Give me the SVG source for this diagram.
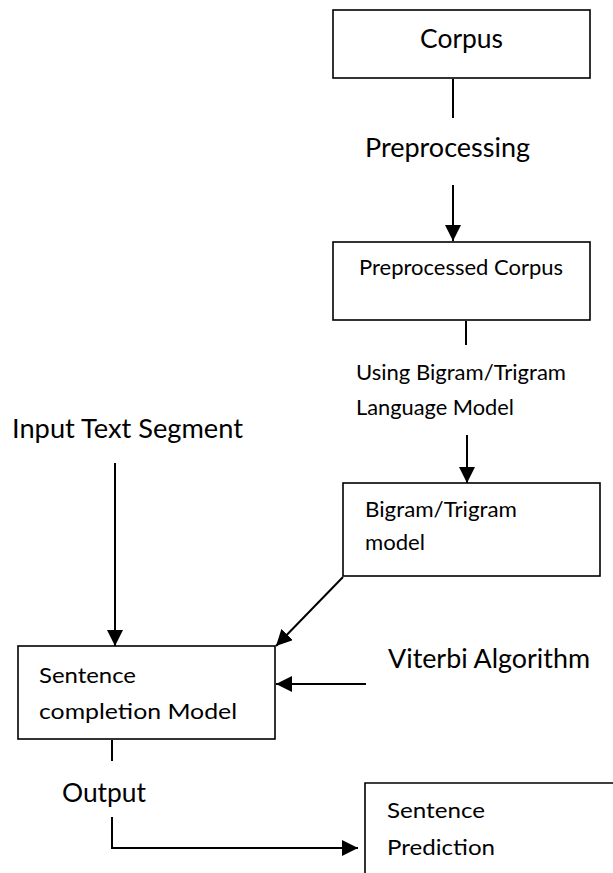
<svg xmlns="http://www.w3.org/2000/svg" width="613" height="873" viewBox="0 0 613 873">
  <style>
    .box { fill: #ffffff; stroke: #000000; stroke-width: 1.6; }
    .wire { fill: none; stroke: #000000; stroke-width: 2; }
    .big { font-family: Lato, "Open Sans", sans-serif; font-size: 26.5px; fill: #000000; }
    .small { font-family: Lato, "Open Sans", sans-serif; font-size: 21.5px; fill: #000000; }
  </style>
  <defs>
    <marker id="arrow" markerUnits="userSpaceOnUse" markerWidth="17" markerHeight="17" refX="16" refY="8" orient="auto">
      <path d="M0,0 L16,8 L0,16 z" fill="#000000"/>
    </marker>
  </defs>
  <rect width="613" height="873" fill="#ffffff"/>

  <!-- connectors -->
  <g id="connectors">
    <line class="wire" x1="453" y1="79" x2="453" y2="118"/>
    <line class="wire" x1="453" y1="185" x2="453" y2="241" marker-end="url(#arrow)"/>
    <line class="wire" x1="466" y1="321" x2="466" y2="345"/>
    <line class="wire" x1="467" y1="435" x2="467" y2="483" marker-end="url(#arrow)"/>
    <line class="wire" x1="115" y1="463" x2="115" y2="646" marker-end="url(#arrow)"/>
    <line class="wire" x1="343" y1="577" x2="276" y2="646" marker-end="url(#arrow)"/>
    <line class="wire" x1="366" y1="684" x2="276" y2="684" marker-end="url(#arrow)"/>
    <line class="wire" x1="112" y1="740" x2="112" y2="761"/>
    <polyline class="wire" points="112,817 112,848 358,848" marker-end="url(#arrow)"/>
  </g>

  <!-- free labels -->
  <g id="label-preprocessing">
    <text class="big" x="365" y="157" textLength="165" lengthAdjust="spacingAndGlyphs">Preprocessing</text>
  </g>
  <g id="label-language-model">
    <text class="small" x="356" y="380" textLength="210" lengthAdjust="spacingAndGlyphs">Using Bigram/Trigram</text>
    <text class="small" x="356" y="415" textLength="158" lengthAdjust="spacingAndGlyphs">Language Model</text>
  </g>
  <g id="label-input">
    <text class="big" x="12" y="438" textLength="231" lengthAdjust="spacingAndGlyphs">Input Text Segment</text>
  </g>
  <g id="label-viterbi">
    <text class="big" x="388" y="668" textLength="202" lengthAdjust="spacingAndGlyphs">Viterbi Algorithm</text>
  </g>
  <g id="label-output">
    <text class="big" x="62" y="802" textLength="84" lengthAdjust="spacingAndGlyphs">Output</text>
  </g>

  <!-- nodes -->
  <g id="corpus">
    <rect class="box" x="333" y="10" width="257" height="68"/>
    <text class="big" x="420" y="48" textLength="83" lengthAdjust="spacingAndGlyphs">Corpus</text>
  </g>
  <g id="preprocessed-corpus">
    <rect class="box" x="333" y="242" width="257" height="78"/>
    <text class="small" x="359" y="275" textLength="204" lengthAdjust="spacingAndGlyphs">Preprocessed Corpus</text>
  </g>
  <g id="ngram-model">
    <rect class="box" x="343" y="483" width="257" height="93"/>
    <text class="small" x="365" y="517" textLength="152" lengthAdjust="spacingAndGlyphs">Bigram/Trigram</text>
    <text class="small" x="365" y="550" textLength="60" lengthAdjust="spacingAndGlyphs">model</text>
  </g>
  <g id="sentence-completion">
    <rect class="box" x="18" y="646" width="257" height="93"/>
    <text class="small" x="39" y="683" textLength="97" lengthAdjust="spacingAndGlyphs">Sentence</text>
    <text class="small" x="39" y="719" textLength="198" lengthAdjust="spacingAndGlyphs">completion Model</text>
  </g>
  <g id="sentence-prediction">
    <path class="box" d="M365,873 L365,783 L613,783"/>
    <text class="small" x="387" y="818" textLength="98" lengthAdjust="spacingAndGlyphs">Sentence</text>
    <text class="small" x="387" y="855" textLength="108" lengthAdjust="spacingAndGlyphs">Prediction</text>
  </g>
</svg>
